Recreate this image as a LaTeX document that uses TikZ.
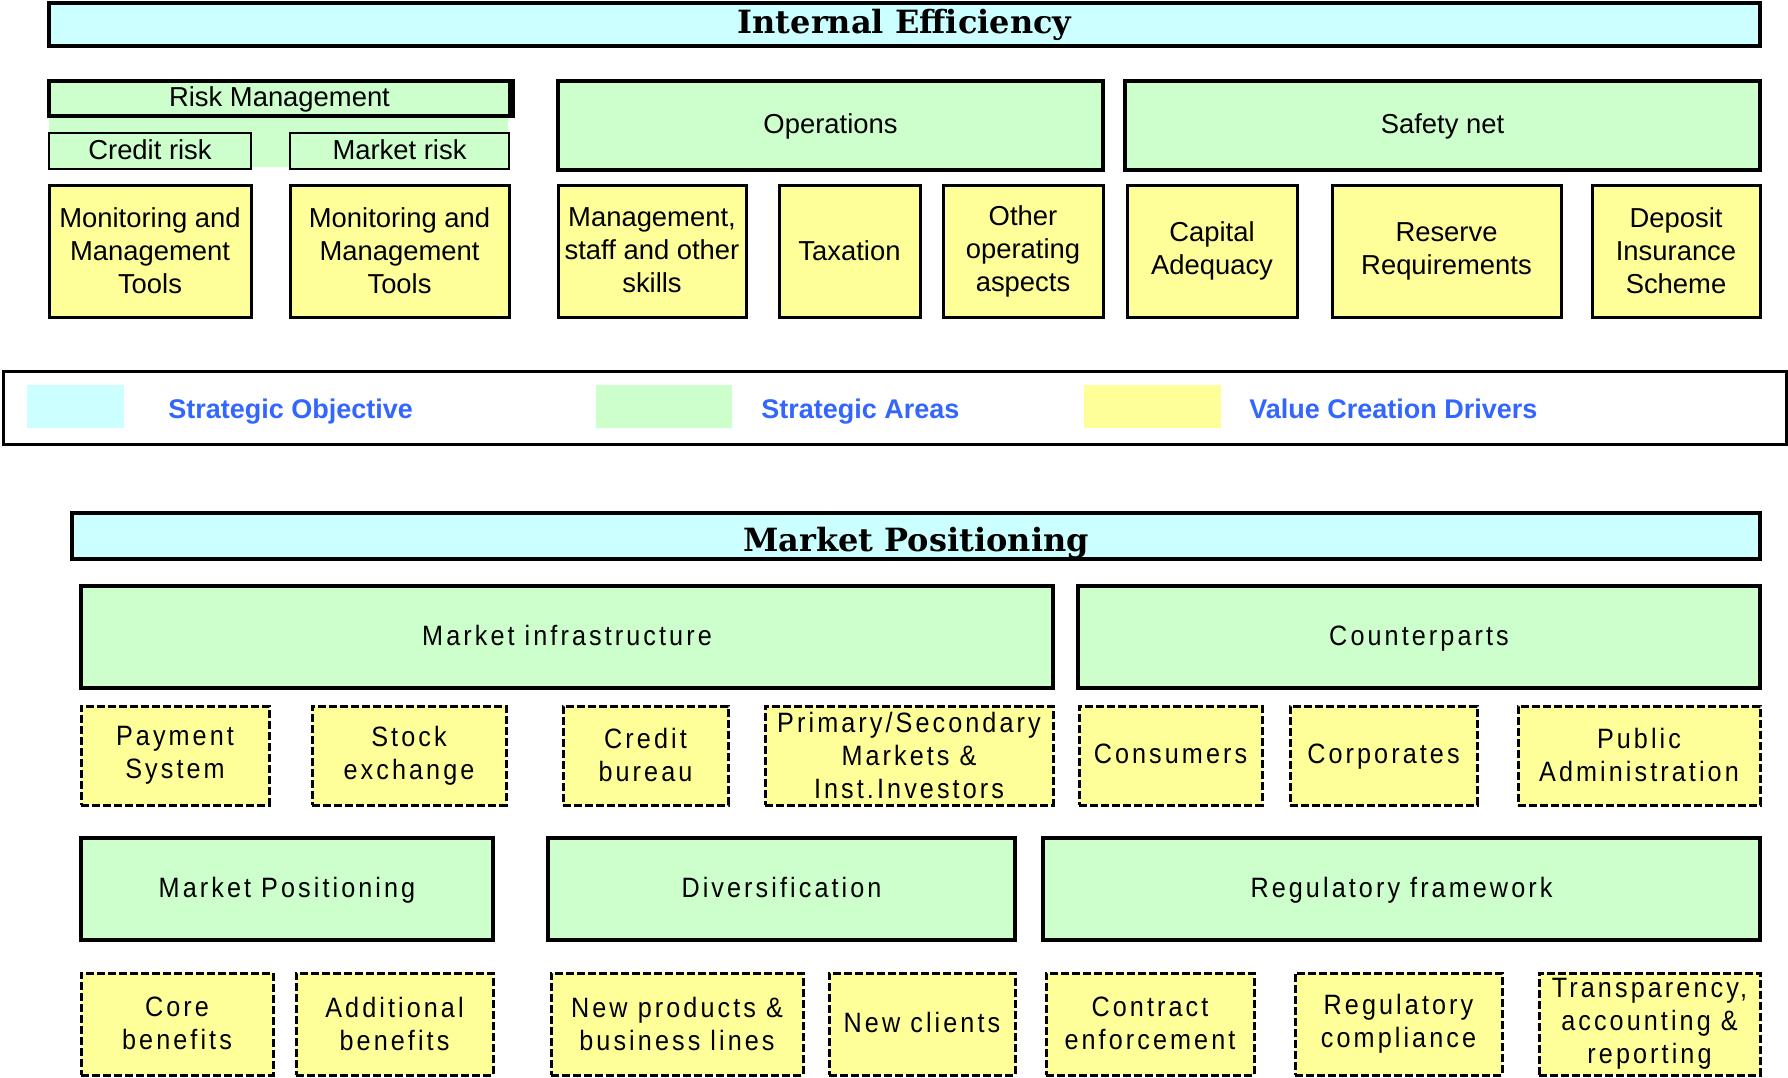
\documentclass[tikz,border=0pt]{standalone}
\usepackage{fontspec}
\setmainfont{Liberation Sans}
\newfontfamily\spfont[LetterSpace=11,FakeStretch=0.9]{Liberation Sans}
\newfontfamily\ttlfont{DejaVu Serif}
\definecolor{objcol}{HTML}{CCFFFF}
\definecolor{areacol}{HTML}{CCFFCC}
\definecolor{drvcol}{HTML}{FFFF99}
\definecolor{legtxt}{HTML}{3366FF}
\newcommand{\vstr}[2]{\rule[-#2]{0pt}{\dimexpr#1+#2\relax}}
\newcommand{\mkbox}[7]{%
  \pgfmathsetmacro\cxx{(#3+#5)/2}\pgfmathsetmacro\cyy{(#4+#6)/2}%
  \pgfmathsetmacro\ww{(#5-#3)*0.5}\pgfmathsetmacro\hh{(#6-#4)*0.5}%
  \node[#1, minimum width=\ww pt, minimum height=\hh pt] (#2) at (\cxx,\cyy) {#7};}
\tikzset{
  struts/.style 2 args={/utils/exec={\def\sth{#1}\def\std{#2}}},
  base/.style={rectangle, draw=black, inner sep=0pt, align=center, text=black,
    font=\fontsize{13.7}{16.5}\selectfont, struts={12.3pt}{4.2pt},
    execute at begin node=\vstr{\sth}{\std}, execute at end node=\vstr{\sth}{\std}},
  ml/.style={struts={16pt}{0.5pt}},
  mltwo/.style={struts={18pt}{0.5pt}},
  objbox/.style={base, fill=objcol, line width=1.8pt, font=\ttlfont\bfseries\fontsize{16}{20}\selectfont,
    struts={14.6pt}{5.4pt}},
  areabox/.style={base, fill=areacol, line width=2pt},
  subarea/.style={base, fill=areacol, line width=1.3pt},
  drvbox/.style={base, ml, fill=drvcol, line width=1.5pt},
  lowarea/.style={base, fill=areacol, line width=2pt, font=\spfont\fontsize{14}{16.5}\selectfont},
  lowdrv/.style={base, fill=drvcol, line width=1.5pt, dash pattern=on 4pt off 1.5pt,
    font=\spfont\fontsize{14}{16.5}\selectfont},
  legbox/.style={rectangle, draw=black, line width=1.5pt, fill=white},
  swatch/.style={rectangle, draw=none, inner sep=0pt},
  legtext/.style={anchor=base west, inner sep=0pt, text=legtxt, font=\bfseries\fontsize{13.5}{16}\selectfont},
}
\begin{document}
\begin{tikzpicture}[x=0.5pt, y=-0.5pt]
\useasboundingbox (0,0) rectangle (1788,1077);
% ---------- Internal Efficiency ----------
\mkbox{objbox}{ie}{49}{3}{1760}{46}{Internal Efficiency}
\fill[areacol] (49,116) rectangle (508,167);
\mkbox{areabox}{rm}{49}{81}{510}{116}{Risk Management}
\draw[line width=2.6pt] ([xshift=0.4pt]rm.north east) -- ([xshift=0.4pt]rm.south east);
\mkbox{subarea}{cr}{49}{133}{251}{169}{Credit risk}
\mkbox{subarea}{mr}{290}{133}{509}{169}{Market risk}
\mkbox{drvbox}{mon1}{49}{185}{251}{317}{Monitoring and\\Management\\Tools}
\mkbox{drvbox}{mon2}{290}{185}{509}{317}{Monitoring and\\Management\\Tools}
\mkbox{areabox}{ops}{558}{81}{1103}{170}{Operations}
\mkbox{drvbox}{mgmt}{558}{185}{746}{317}{Management,\\staff and other\\skills}
\mkbox{drvbox, struts={13.2pt}{3.3pt}}{tax}{779}{185}{920}{317}{Taxation}
\mkbox{drvbox}{oth}{943}{185}{1103}{317}{Other\\operating\\aspects}
\mkbox{areabox}{safe}{1125}{81}{1760}{170}{Safety net}
\mkbox{drvbox, mltwo}{cap}{1127}{185}{1297}{317}{Capital\\Adequacy}
\mkbox{drvbox, mltwo}{res}{1332}{185}{1561}{317}{Reserve\\Requirements}
\mkbox{drvbox}{dep}{1592}{185}{1760}{317}{Deposit\\Insurance\\Scheme}
% ---------- Legend ----------
\mkbox{legbox}{leg}{3}{371}{1786}{444}{}
\mkbox{swatch, fill=objcol}{sw1}{27}{385}{124}{428}{}
\mkbox{swatch, fill=areacol}{sw2}{596}{385}{732}{428}{}
\mkbox{swatch, fill=drvcol}{sw3}{1084}{385}{1221}{428}{}
\node[legtext] (lt1) at (168,418) {Strategic Objective};
\node[legtext] (lt2) at (761,418) {Strategic Areas};
\node[legtext] (lt3) at (1249,418) {Value Creation Drivers};
% ---------- Market Positioning ----------
\mkbox{objbox, line width=2pt, struts={19.5pt}{0.5pt}}{mp}{72}{513}{1760}{559}{Market Positioning}
\mkbox{lowarea}{mi}{81}{586}{1053}{688}{Market infrastructure}
\mkbox{lowarea}{cp}{1078}{586}{1760}{688}{Counterparts}
\mkbox{lowdrv, mltwo}{pay}{81}{706}{269}{805}{Payment\\System}
\mkbox{lowdrv, ml}{stock}{312}{706}{506}{805}{Stock\\exchange}
\mkbox{lowdrv, ml}{cb}{563}{706}{728}{805}{Credit\\bureau}
\mkbox{lowdrv, ml}{psm}{765}{706}{1053}{805}{Primary/Secondary\\Markets \&\\Inst.Investors}
\mkbox{lowdrv}{cons}{1079}{706}{1262}{805}{Consumers}
\mkbox{lowdrv}{corp}{1290}{706}{1477}{805}{Corporates}
\mkbox{lowdrv, ml}{pub}{1518}{706}{1760}{805}{Public\\Administration}
\mkbox{lowarea}{mpos}{81}{838}{493}{940}{Market Positioning}
\mkbox{lowarea}{div}{548}{838}{1015}{940}{Diversification}
\mkbox{lowarea}{reg}{1043}{838}{1760}{940}{Regulatory framework}
\mkbox{lowdrv, ml}{core}{81}{973}{273}{1075}{Core\\benefits}
\mkbox{lowdrv, ml}{addb}{296}{973}{493}{1075}{Additional\\benefits}
\mkbox{lowdrv, ml}{newp}{551}{973}{803}{1075}{New products \&\\business lines}
\mkbox{lowdrv}{newc}{829}{973}{1015}{1075}{New clients}
\mkbox{lowdrv, ml}{contr}{1046}{973}{1254}{1075}{Contract\\enforcement}
\mkbox{lowdrv, ml}{regc}{1295}{973}{1502}{1075}{Regulatory\\compliance}
\mkbox{lowdrv, ml}{trans}{1539}{973}{1760}{1075}{Transparency,\\accounting \&\\reporting}
\end{tikzpicture}
\end{document}
